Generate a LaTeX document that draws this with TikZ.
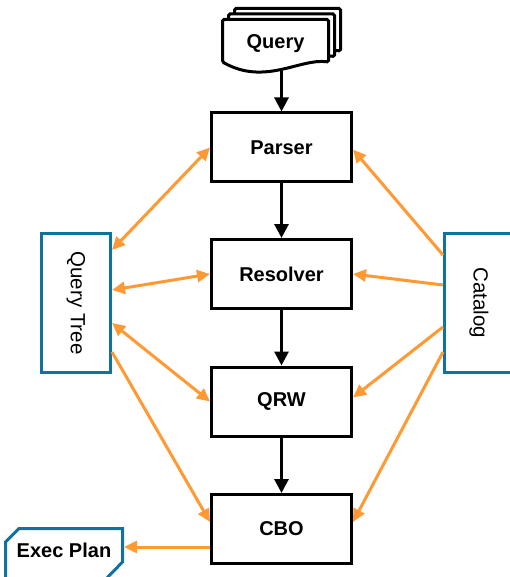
\documentclass[tikz,border=0pt]{standalone}
\usepackage{fontspec}
\usepackage{graphicx}
\setmainfont{Liberation Sans}
\usetikzlibrary{arrows.meta}
\definecolor{planorange}{HTML}{FF9933}
\definecolor{planblue}{HTML}{10739E}

\begin{document}
\begin{tikzpicture}[x=1pt,y=-1pt,
  stage/.style={draw, line width=3pt, minimum width=140pt, minimum height=69pt,
    inner sep=0pt, font=\fontsize{20}{24}\selectfont\bfseries},
  side/.style={draw=planblue, line width=3pt, minimum width=69pt, minimum height=139pt,
    inner sep=0pt, font=\fontsize{20.5}{24}\selectfont},
  flow/.style={line width=3pt, -{Triangle[length=14pt,width=14pt]}},
  link/.style={draw=planorange, line width=3pt, -{Triangle[length=13pt,width=12pt,fill=planorange]}},
  both/.style={link, {Triangle[length=13pt,width=12pt,fill=planorange]}-{Triangle[length=13pt,width=12pt,fill=planorange]}}]
\useasboundingbox (0,0) rectangle (509,577);

% the query pile
\foreach \d in {2,1,0}
  \draw[line width=3pt, fill=white, rounded corners=1.5pt, shift={(6*\d,-5.5*\d)}]
    (222.5,62) -- (222.5,19.5) -- (328.5,19.5) -- (328.5,62)
    .. controls (300,58) and (265,86) .. (222.5,62) -- cycle;
\node[minimum width=106pt, minimum height=54pt, inner sep=0pt, outer sep=0pt,
  font=\fontsize{20}{24}\selectfont\bfseries] (query) at (275.5,44) {Query};

\node[stage] (parser) at (281.5,147.5) {Parser};
\node[stage] (resolver) at (281.5,274) {Resolver};
\node[stage] (qrw) at (281.5,401.5) {QRW};
\node[stage] (cbo) at (281.5,529) {CBO};

\node[side] (qtree) at (76,303) {\rotatebox{-90}{Query Tree}};
\node[side] (catalog) at (479,303) {\rotatebox{-90}{Catalog}};

% exec plan
\draw[draw=planblue, line width=3pt] (5.5,582) -- (5.5,542) -- (19,528.5) -- (122.5,528.5)
  -- (122.5,562) -- (103,582) -- cycle;
\node[minimum width=120pt, minimum height=40pt, inner sep=0pt, outer sep=0pt,
  font=\fontsize{20}{24}\selectfont\bfseries] (exec) at (64,550) {Exec Plan};

\draw[flow] (query.south -| parser.north) -- (parser.north);
\draw[flow] (parser) -- (resolver);
\draw[flow] (resolver) -- (qrw);
\draw[flow] (qrw) -- (cbo);

\draw[both] ([yshift=53pt]qtree.east) -- (parser.west);
\draw[both] ([yshift=13pt]qtree.east) -- (resolver.west);
\draw[both] ([yshift=-20pt]qtree.east) -- (qrw.west);
\draw[link] ([yshift=-49pt]qtree.east) -- ([yshift=7pt]cbo.west);

\draw[link] ([yshift=48pt]catalog.west) -- ([yshift=-2pt]parser.east);
\draw[link] ([yshift=18pt]catalog.west) -- (resolver.east);
\draw[link] ([yshift=-24pt]catalog.west) -- ([yshift=4pt]qrw.east);
\draw[link] ([yshift=-49pt]catalog.west) -- ([yshift=7pt]cbo.east);

\draw[link] ([yshift=-18pt]cbo.west) coordinate (out) -- (out -| exec.east);
\end{tikzpicture}
\end{document}
